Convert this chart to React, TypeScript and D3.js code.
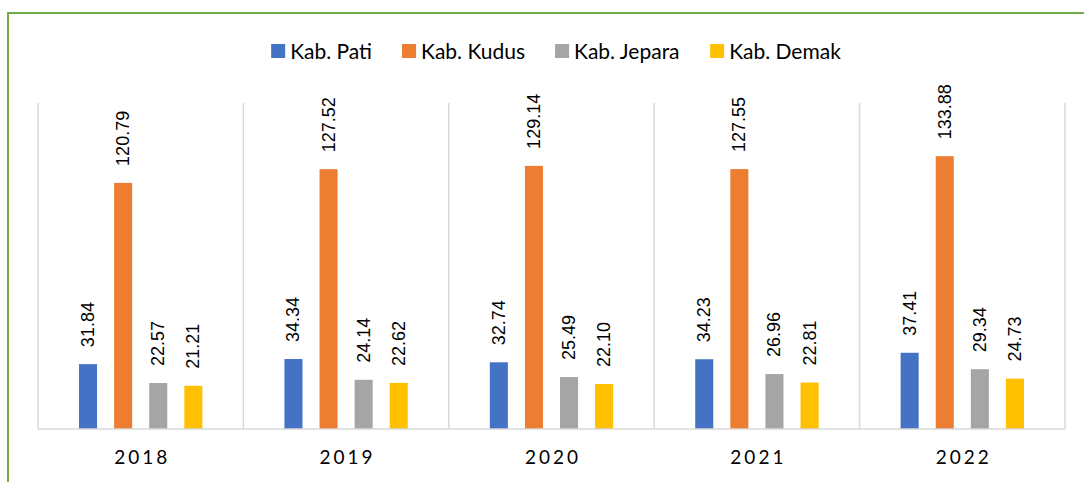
import React from "react";
import * as d3 from "d3";

const years = ["2018", "2019", "2020", "2021", "2022"];
const seriesNames = ["Kab. Pati", "Kab. Kudus", "Kab. Jepara", "Kab. Demak"];
const pati = [31.84, 34.34, 32.74, 34.23, 37.41];
const kudus = [120.79, 127.52, 129.14, 127.55, 133.88];
const jepara = [22.57, 24.14, 25.49, 26.96, 29.34];
const demak = [21.21, 22.62, 22.1, 22.81, 24.73];
const colors = ["#4472c4", "#ed7d31", "#a5a5a5", "#ffc000"];

const W = 1084;
const H = 482;
const plot = { left: 38, right: 1065, top: 103, bottom: 429 };

const legendSize = 21;
const legendFont = `${legendSize}px Lato`;
const labelFont = "Liberation Sans";
const axisFont = "Lato";

function measure(text: string, font: string) {
  const c = document.createElement("canvas");
  const ctx = c.getContext("2d")!;
  ctx.font = font;
  return ctx.measureText(text).width;
}

export default function App() {
  const values = [pati, kudus, jepara, demak];
  const x0 = d3.scaleBand().domain(years).range([plot.left, plot.right]).padding(0);
  const x1 = d3
    .scaleBand()
    .domain(seriesNames)
    .range([0, x0.bandwidth()])
    .paddingInner(0.486)
    .paddingOuter(1.169);
  const y = d3.scaleLinear().domain([0, 160]).range([plot.bottom, plot.top]);

  // legend layout
  const sq = 14;
  const gapText = 5;
  const gapItem = 30;
  const widths = seriesNames.map((s) => measure(s, legendFont));
  const total =
    widths.reduce((a, b) => a + b, 0) + seriesNames.length * (sq + gapText) + (seriesNames.length - 1) * gapItem;
  let cursor = 556 - total / 2;
  const legendItems = seriesNames.map((s, i) => {
    const item = { name: s, x: cursor, color: colors[i] };
    cursor += sq + gapText + widths[i] + gapItem;
    return item;
  });

  const gridColor = "#d9d9d9";
  const separators = [...years.map((yr) => x0(yr)!), plot.right];

  return (
    <div style={{ position: "absolute", left: 0, top: 0 }}>
      <svg width={W} height={H} style={{ display: "block", background: "#fff" }}>
        <rect x={8} y={13} width={1100} height={500} fill="none" stroke="#70ad47" strokeWidth={2} />
        {separators.map((sx, i) => (
          <line key={i} x1={sx} x2={sx} y1={plot.top} y2={plot.bottom} stroke={gridColor} strokeWidth={1.5} />
        ))}
        {years.map((yr, yi) => (
          <g key={yr} transform={`translate(${x0(yr)},0)`}>
            {seriesNames.map((s, si) => {
              const v = values[si][yi];
              const bx = x1(s)!;
              const bw = x1.bandwidth();
              const cx = bx + bw / 2;
              const ty = y(v) - 17;
              return (
                <g key={s}>
                  <rect x={bx} y={y(v)} width={bw} height={plot.bottom - y(v)} fill={colors[si]} />
                  <text
                    transform={`translate(${cx},${ty}) rotate(-90)`}
                    dominantBaseline="central"
                    textAnchor="start"
                    fontFamily={labelFont}
                    fontSize={18}
                    fill="#000"
                  >
                    {v.toFixed(2)}
                  </text>
                </g>
              );
            })}
            <text
              x={x0.bandwidth() / 2 + 1.5}
              y={464}
              textAnchor="middle"
              fontFamily={axisFont}
              fontSize={19}
              letterSpacing={3}
              fill="#000"
            >
              {yr}
            </text>
          </g>
        ))}
        <line x1={plot.left} x2={plot.right} y1={plot.bottom} y2={plot.bottom} stroke={gridColor} strokeWidth={1.5} />
        {legendItems.map((it) => (
          <g key={it.name}>
            <rect x={it.x} y={44} width={sq} height={sq} fill={it.color} />
            <text x={it.x + sq + gapText} y={59} fontFamily="Lato" fontSize={legendSize} fill="#000">
              {it.name}
            </text>
          </g>
        ))}
      </svg>
    </div>
  );
}
